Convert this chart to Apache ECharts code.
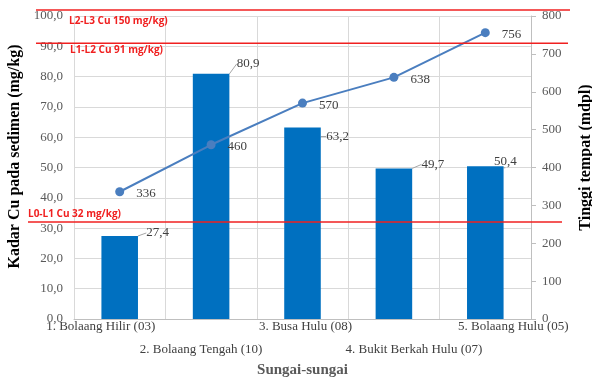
<!DOCTYPE html>
<html>
<head>
<meta charset="utf-8">
<script src="https://cdn.jsdelivr.net/npm/echarts@6/dist/echarts.min.js"></script>
<style>html,body{margin:0;padding:0;background:#fff}#c{width:592px;height:383px}</style>
</head>
<body>
<div id="c"></div>
<script>
// ---- data ----
const categories = ['1. Bolaang Hilir (03)', '2. Bolaang Tengah (10)', '3. Busa Hulu (08)', '4. Bukit Berkah Hulu (07)', '5. Bolaang Hulu (05)'];
const cuValues = [27.4, 80.9, 63.2, 49.7, 50.4];
const elevation = [336, 460, 570, 638, 756];
const thresholdLabels = ['L0-L1 Cu 32 mg/kg)', 'L1-L2 Cu 91 mg/kg)', 'L2-L3 Cu 150 mg/kg)'];
const thresholdValues = [32, 91, 150];

// ---- styling helpers (not data) ----
const barLabelDx = [38, 37, 35, 39, 20];
const barLabelDy = [-3, -10, 9, -4, -5];
const catShift = [-19, -10, 3, 20, 28];
const serif = '"Liberation Serif", "DejaVu Serif", serif';

const chart = echarts.init(document.getElementById('c'));
const rich = {};
categories.forEach((c, i) => {
  const s = catShift[i];
  rich['l' + i] = {
    fontFamily: serif, fontSize: 13, color: '#404040',
    padding: [i % 2 === 1 ? 23 : 0, s < 0 ? -2 * s : 0, 0, s > 0 ? 2 * s : 0]
  };
});

chart.setOption({
  animation: false,
  grid: { left: 74, right: 61, top: 16, bottom: 64, outerBoundsMode: 'none', containLabel: false },
  xAxis: {
    type: 'category',
    data: categories,
    axisLine: { lineStyle: { color: '#bfbfbf' } },
    axisTick: { show: false },
    splitLine: { show: true, interval: 0, lineStyle: { color: '#d9d9d9' } },
    axisLabel: {
      interval: 0, margin: 1,
      formatter: (v, i) => '{l' + i + '|' + v + '}',
      rich: rich
    },
    name: 'Sungai-sungai',
    nameLocation: 'middle',
    nameGap: 44,
    nameTextStyle: { fontFamily: serif, fontSize: 15, fontWeight: 'bold', color: '#595959' }
  },
  yAxis: [{
    type: 'value', min: 0, max: 100, interval: 10,
    axisLine: { show: false },
    axisTick: { show: false },
    splitLine: { lineStyle: { color: '#d9d9d9' } },
    axisLabel: {
      margin: 11, fontFamily: serif, fontSize: 13, color: '#595959',
      formatter: v => v.toFixed(1).replace('.', ',')
    },
    name: 'Kadar Cu pada sedimen (mg/kg)',
    nameLocation: 'middle',
    nameGap: 48,
    nameRotate: 90,
    nameTextStyle: { fontFamily: serif, fontSize: 16, fontWeight: 'bold', color: '#000', padding: [0, 0, 0, 22] }
  }, {
    type: 'value', min: 0, max: 800, interval: 100,
    axisLine: { show: true, lineStyle: { color: '#bfbfbf' } },
    axisTick: { show: true, length: 5, lineStyle: { color: '#bfbfbf' } },
    splitLine: { show: false },
    axisLabel: { margin: 11, fontFamily: serif, fontSize: 13, color: '#595959' },
    name: 'Tinggi tempat (mdpl)',
    nameLocation: 'middle',
    nameGap: 47,
    nameRotate: 90,
    nameTextStyle: { fontFamily: serif, fontSize: 16, fontWeight: 'bold', color: '#000', padding: [0, 0, 0, 20] }
  }],
  series: [{
    type: 'bar',
    data: cuValues,
    barWidth: '40%',
    itemStyle: { color: '#0070c0' },
    label: {
      show: true, position: 'top',
      fontFamily: serif, fontSize: 13, color: '#404040',
      formatter: p => p.value.toFixed(1).replace('.', ',')
    },
    labelLine: { show: true, lineStyle: { color: '#a6a6a6', width: 1 } },
    labelLayout: p => ({
      x: p.rect.x + p.rect.width / 2 + barLabelDx[p.dataIndex],
      y: p.rect.y + barLabelDy[p.dataIndex],
      align: 'center', verticalAlign: 'middle'
    })
  }, {
    type: 'line',
    yAxisIndex: 1,
    data: elevation,
    symbol: 'circle',
    symbolSize: 9,
    lineStyle: { color: '#4a7ebf', width: 2 },
    itemStyle: { color: '#4a7ebf' },
    label: {
      show: true, position: 'right', distance: 12, offset: [0, 2],
      fontFamily: serif, fontSize: 13, color: '#404040'
    },
    z: 5
  }]
});

// threshold annotation lines (red), drawn relative to grid
function drawThresholds() {
  const yMax = 100;
  const top = chart.convertToPixel({ yAxisIndex: 0 }, yMax);
  const g = [];
  const ext = [[-46, 31], [-38, 37], [-38, 39]];
  const txtDx = [-46, -4, -5];
  const txtDy = [-8, 7, 11];
  thresholdValues.forEach((v, i) => {
    let y = v <= yMax ? chart.convertToPixel({ yAxisIndex: 0 }, v) : top - 6;
    const x0 = 74 + ext[i][0], x1 = 531 + ext[i][1];
    g.push({ type: 'line', shape: { x1: x0, y1: y, x2: x1, y2: y }, style: { stroke: '#f02020', lineWidth: 1.5 }, z: 100 });
    g.push({ type: 'text', x: 74 + txtDx[i], y: y + txtDy[i], style: {
      text: thresholdLabels[i], fill: '#f02020', font: 'bold 10px "Open Sans", "Liberation Sans", sans-serif',
      textVerticalAlign: 'middle' }, z: 100 });
  });
  chart.setOption({ graphic: g });
}
drawThresholds();
</script>
</body>
</html>
